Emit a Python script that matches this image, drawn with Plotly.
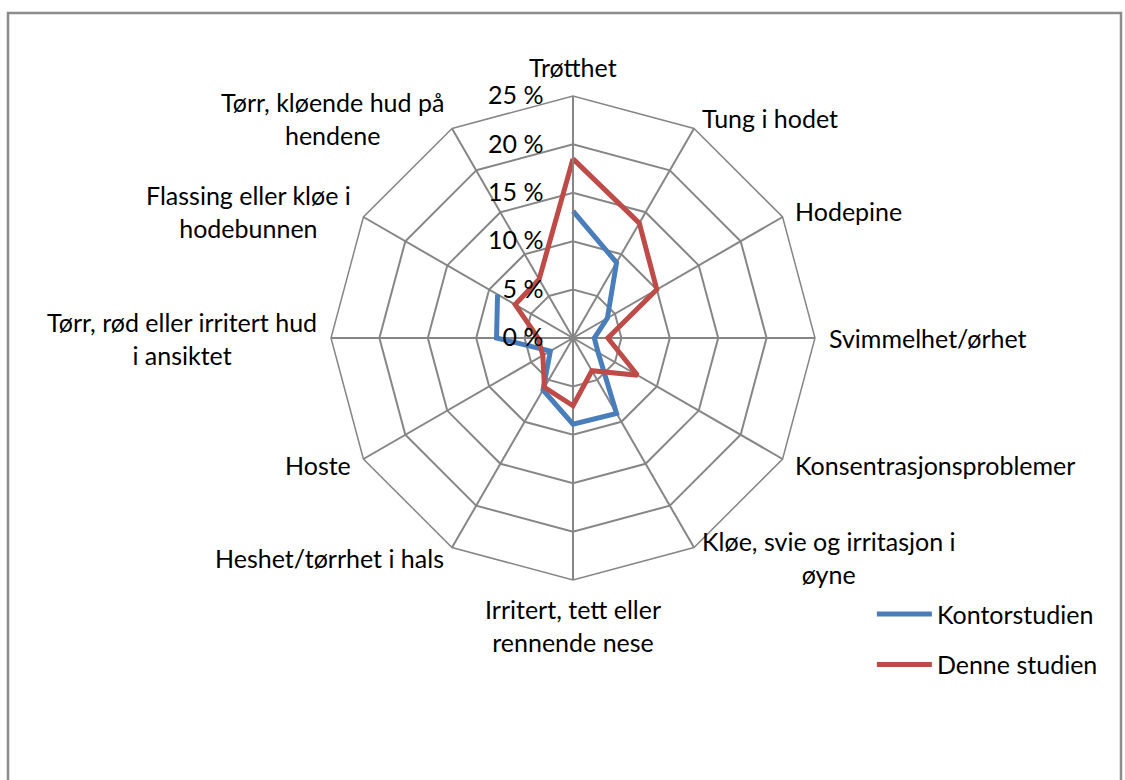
import math
import plotly.graph_objects as go

categories = [
    "Trøtthet",
    "Tung i hodet",
    "Hodepine",
    "Svimmelhet/ørhet",
    "Konsentrasjonsproblemer",
    "Kløe, svie og irritasjon i<br>øyne",
    "Irritert, tett eller<br>rennende nese",
    "Heshet/tørrhet i hals",
    "Hoste",
    "Tørr, rød eller irritert hud<br>i ansiktet",
    "Flassing eller kløe i<br>hodebunnen",
    "Tørr, kløende hud på<br>hendene",
]
kontor = [13.1, 9.0, 4.1, 2.2, 3.0, 9.0, 8.9, 6.2, 2.7, 7.9, 9.0, None]
denne = [18.5, 13.7, 10.0, 3.6, 7.7, 3.9, 7.0, 5.9, 3.6, 3.6, 6.9, 7.0]
series_names = ["Kontorstudien", "Denne studien"]
radial_ticks = [0, 5, 10, 15, 20, 25]
radial_labels = ["0 %", "5 %", "10 %", "15 %", "20 %", "25 %"]

colors = ["#4A7EBB", "#BE4B48"]
FONT = "Lato"
FS = 24
FS_CAT = 25

fig = go.Figure()
for i, (name, vals, col) in enumerate(zip(series_names, [kontor, denne], colors)):
    fig.add_trace(go.Scatterpolar(
        r=vals + [vals[0]],
        theta=list(range(len(categories))) + [0],
        mode="lines",
        name=name,
        legendgroup=f"g{i}",
        connectgaps=False,
        line=dict(color=col, width=5),
    ))

W, H = 1125, 780
cx, cy, R = 573, 338, 242

# category labels placed just outside each polygon vertex
annotations = []
n = len(categories)
gap = 11.5
for k, lab in enumerate(categories):
    ang = math.radians(360 * k / n)
    sx, sy = math.sin(ang), -math.cos(ang)
    px = cx + (R + gap) * sx
    py = cy + (R + gap) * sy
    if abs(sx) < 0.1:
        xa = "center"
    elif sx > 0:
        xa = "left"
    else:
        xa = "right"
    if sy < -0.9:
        ya = "bottom"
    elif sy > 0.9:
        ya = "top"
    else:
        ya = "middle"
    annotations.append(dict(
        x=px / W, y=(H - py) / H, xref="paper", yref="paper",
        text=lab, showarrow=False, xanchor=xa, yanchor=ya, align="center",
        font=dict(size=FS_CAT, family=FONT, color="black"),
    ))

fig.update_layout(
    width=W, height=H,
    margin=dict(l=0, r=0, t=0, b=0),
    paper_bgcolor="white",
    plot_bgcolor="white",
    font=dict(family=FONT, size=FS, color="black"),
    polar=dict(
        domain=dict(x=[(cx - R) / W, (cx + R) / W], y=[(H - cy - R) / H, (H - cy + R) / H]),
        bgcolor="white",
        gridshape="linear",
        angularaxis=dict(
            type="category",
            categoryarray=list(range(n)),
            direction="clockwise", rotation=90,
            linecolor="#868686", linewidth=1.5,
            gridcolor="#868686", gridwidth=1.5,
            showline=True, ticks="", showticklabels=False,
        ),
        radialaxis=dict(
            range=[0, 25], tickvals=radial_ticks, ticktext=radial_labels,
            angle=90, side="counterclockwise", tickangle=90,
            showline=True, linecolor="#868686", linewidth=1.5,
            gridcolor="#868686", gridwidth=1.5,
            ticks="outside", ticklen=20, tickcolor="rgba(0,0,0,0)",
            tickfont=dict(size=FS_CAT, family=FONT, color="black"),
        ),
    ),
    legend=dict(
        x=0.775, y=0.242, xanchor="left", yanchor="top",
        font=dict(size=FS_CAT, family=FONT, color="black"),
        tracegroupgap=15, itemwidth=55,
        bgcolor="rgba(0,0,0,0)",
    ),
    annotations=annotations,
    shapes=[dict(
        type="rect", xref="paper", yref="paper",
        x0=8 / W, x1=1121 / W, y0=-0.05, y1=(H - 13) / H,
        line=dict(color="#8C8C8C", width=2.5), fillcolor="rgba(0,0,0,0)", layer="below",
    )],
)

fig.write_html(
    "out.html",
    config={"displayModeBar": False},
    post_script="document.body.style.margin='0';document.body.style.overflow='hidden';",
)
